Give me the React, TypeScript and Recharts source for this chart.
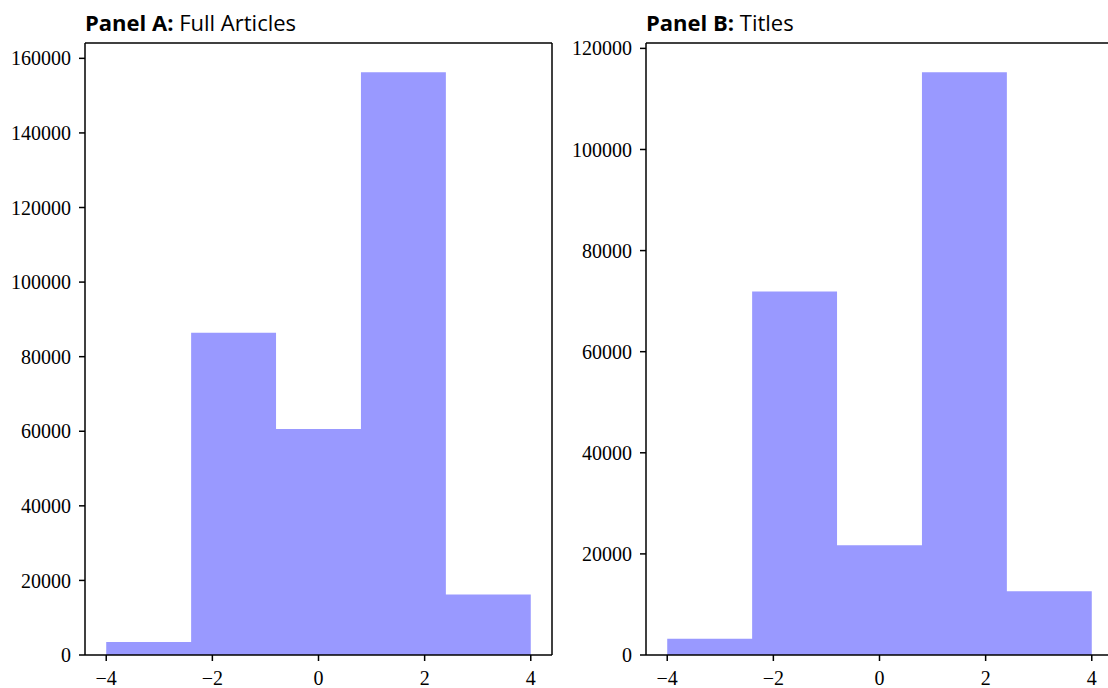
import { ComposedChart, Area, XAxis, YAxis } from "recharts";

// histogram bin edges (shared by both panels)
const binEdges = [-4, -2.4, -0.8, 0.8, 2.4, 4];
const xTicks = [-4, -2, 0, 2, 4];

const fullArticleCounts = [3500, 86400, 60600, 156300, 16200];
const titleCounts = [3200, 71900, 21700, 115300, 12600];

const yTicksA = [0, 20000, 40000, 60000, 80000, 100000, 120000, 140000, 160000];
const yTicksB = [0, 20000, 40000, 60000, 80000, 100000, 120000];

const serif = "'Liberation Serif', 'DejaVu Serif', serif";
const sans = "'Open Sans', Lato, sans-serif";

const fmtX = (v: number) => (v < 0 ? "\u2212" + Math.abs(v) : String(v));

type PanelProps = {
  label: string;
  name: string;
  counts: number[];
  yTicks: number[];
  left: number;
  plotLeft: number;
};

function Panel({ label, name, counts, yTicks, left, plotLeft }: PanelProps) {
  const rows = binEdges.map((edge, i) => ({
    edge,
    count: counts[Math.min(i, counts.length - 1)]
  }));
  const yMax = Math.max(...counts) * 1.05;
  const tick = { fill: "#000", fontSize: 20, fontFamily: serif };
  const line = { stroke: "#000", strokeWidth: 1.5 };

  return (
    <div style={{ position: "absolute", left, top: 0, width: 560, height: 688 }}>
      <div
        style={{
          position: "absolute",
          left: plotLeft,
          top: 7,
          fontFamily: sans,
          fontSize: 22,
          whiteSpace: "nowrap",
          color: "#000"
        }}
      >
        <b>{label}</b> {name}
      </div>
      <ComposedChart
        width={560}
        height={688}
        data={rows}
        margin={{ top: 42, right: 560 - plotLeft - 467 - 1, bottom: 0, left: 0 }}
      >
        <XAxis
          dataKey="edge"
          type="number"
          domain={[-4.4, 4.4]}
          ticks={xTicks}
          tickFormatter={fmtX}
          height={33}
          tick={tick}
          tickSize={6}
          tickMargin={10}
          axisLine={line}
          tickLine={line}
          allowDataOverflow
        />
        <XAxis
          xAxisId="top"
          orientation="top"
          dataKey="edge"
          type="number"
          domain={[-4.4, 4.4]}
          height={1}
          tick={false}
          tickLine={false}
          axisLine={line}
          allowDataOverflow
        />
        <YAxis
          type="number"
          domain={[0, yMax]}
          ticks={yTicks}
          width={plotLeft}
          tick={tick}
          tickSize={6}
          tickMargin={8}
          axisLine={line}
          tickLine={line}
          allowDataOverflow
        />
        <YAxis
          yAxisId="right"
          orientation="right"
          type="number"
          domain={[0, yMax]}
          width={1}
          tick={false}
          tickLine={false}
          axisLine={line}
          allowDataOverflow
        />
        <Area
          type="stepAfter"
          dataKey="count"
          fill="#9999ff"
          fillOpacity={1}
          stroke="none"
          dot={false}
          activeDot={false}
          isAnimationActive={false}
        />
      </ComposedChart>
    </div>
  );
}

export default function App() {
  return (
    <div
      style={{
        position: "absolute",
        left: 0,
        top: 0,
        width: 1108,
        height: 688,
        overflow: "hidden",
        background: "#fff"
      }}
    >
      <Panel
        label="Panel A:"
        name="Full Articles"
        counts={fullArticleCounts}
        yTicks={yTicksA}
        left={0}
        plotLeft={85}
      />
      <Panel
        label="Panel B:"
        name="Titles"
        counts={titleCounts}
        yTicks={yTicksB}
        left={560}
        plotLeft={86}
      />
    </div>
  );
}
